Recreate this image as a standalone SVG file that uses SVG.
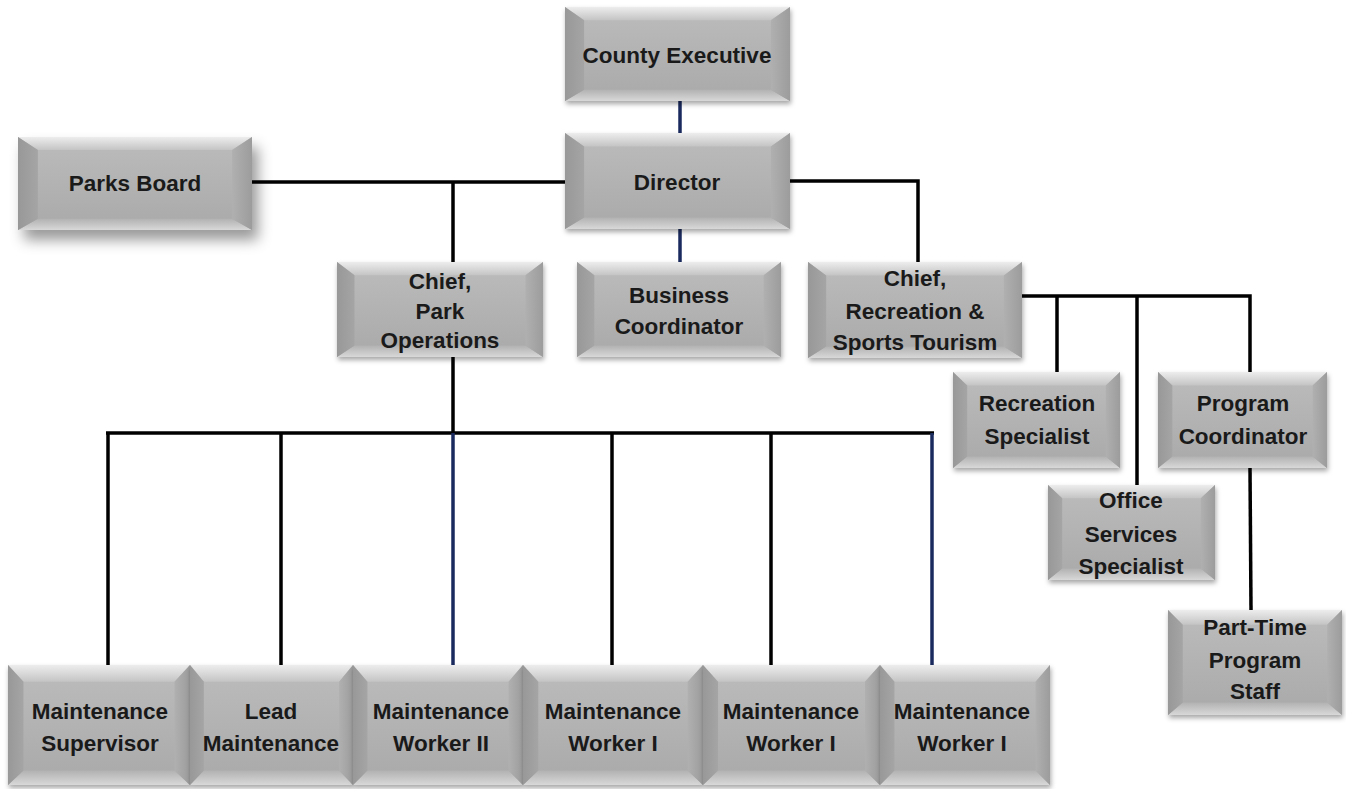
<svg xmlns="http://www.w3.org/2000/svg" xmlns:xlink="http://www.w3.org/1999/xlink" width="1346" height="789" viewBox="0 0 1346 789">
<defs>
<linearGradient id="face" x1="0" y1="0" x2="0" y2="1">
<stop offset="0" stop-color="#bcbcbc"/><stop offset="1" stop-color="#a9a9a9"/>
</linearGradient>
<linearGradient id="topg" x1="0" y1="0" x2="0" y2="1">
<stop offset="0" stop-color="#ededed"/><stop offset="1" stop-color="#c4c4c4"/>
</linearGradient>
<linearGradient id="botg" x1="0" y1="0" x2="0" y2="1">
<stop offset="0" stop-color="#b2b2b2"/><stop offset="1" stop-color="#d8d8d8"/>
</linearGradient>
<linearGradient id="leftg" x1="0" y1="0" x2="1" y2="0">
<stop offset="0" stop-color="#989898"/><stop offset="1" stop-color="#a5a5a5"/>
</linearGradient>
<linearGradient id="rightg" x1="0" y1="0" x2="1" y2="0">
<stop offset="0" stop-color="#b0b0b0"/><stop offset="1" stop-color="#9c9c9c"/>
</linearGradient>
<filter id="sh" x="-10%" y="-10%" width="130%" height="140%">
<feDropShadow dx="1" dy="3" stdDeviation="2.5" flood-color="#000" flood-opacity="0.35"/>
</filter>
<filter id="shbig" x="-20%" y="-20%" width="150%" height="170%">
<feDropShadow dx="6" dy="10" stdDeviation="7" flood-color="#000" flood-opacity="0.4"/>
</filter>
<symbol id="bev" viewBox="0 0 200 100" preserveAspectRatio="none">
<rect x="0" y="0" width="200" height="100" fill="url(#face)"/>
<polygon points="0,0 200,0 183,14 17,14" fill="url(#topg)"/>
<polygon points="0,100 200,100 183,88 17,88" fill="url(#botg)"/>
<polygon points="0,0 17,14 17,88 0,100" fill="url(#leftg)"/>
<polygon points="200,0 183,14 183,88 200,100" fill="url(#rightg)"/>
</symbol>
</defs>
<style>
text{font-family:"Liberation Sans",Arial,sans-serif;font-weight:bold;font-size:22.5px;fill:#1a1a1a;text-anchor:middle}
.c{stroke:#000;stroke-width:3.5;fill:none}
.n{stroke:#1a2a5e;stroke-width:3.5;fill:none}
</style>
<rect width="1346" height="789" fill="#fff"/>
<g id="connectors">
<line class="n" x1="680" y1="100" x2="680" y2="135"/>
<line class="n" x1="680" y1="228" x2="680" y2="264"/>
<polyline class="c" points="252,182 565,182"/>
<polyline class="c" points="453,182 453,262"/>
<polyline class="c" points="790,181 918,181 918,262"/>
<line class="c" x1="453" y1="357" x2="453" y2="433"/>
<line class="c" x1="106" y1="433" x2="934" y2="433"/>
<line class="c" x1="108" y1="433" x2="108" y2="665"/>
<line class="c" x1="281" y1="433" x2="281" y2="665"/>
<line class="n" x1="453" y1="433" x2="453" y2="665"/>
<line class="c" x1="612" y1="433" x2="612" y2="665"/>
<line class="c" x1="771" y1="433" x2="771" y2="665"/>
<line class="n" x1="932" y1="433" x2="932" y2="665"/>
<polyline class="c" points="1022,296 1250,296 1250,372"/>
<line class="c" x1="1057" y1="296" x2="1057" y2="372"/>
<line class="c" x1="1137" y1="296" x2="1137" y2="485"/>
<line class="c" x1="1250" y1="468" x2="1251" y2="610"/>
</g>
<g id="county-executive"><use xlink:href="#bev" href="#bev" x="565" y="7" width="225" height="94" filter="url(#sh)"/><text x="677" y="63">County Executive</text></g>
<g id="parks-board"><use xlink:href="#bev" href="#bev" x="18" y="137" width="234" height="93" filter="url(#shbig)"/><text x="135" y="191">Parks Board</text></g>
<g id="director"><use xlink:href="#bev" href="#bev" x="565" y="133" width="225" height="96" filter="url(#sh)"/><text x="677" y="190">Director</text></g>
<g id="chief-park-operations"><use xlink:href="#bev" href="#bev" x="337" y="262" width="206" height="95" filter="url(#sh)"/><text x="440" y="289">Chief,</text><text x="440" y="319">Park</text><text x="440" y="348">Operations</text></g>
<g id="business-coordinator"><use xlink:href="#bev" href="#bev" x="577" y="262" width="204" height="95" filter="url(#sh)"/><text x="679" y="303">Business</text><text x="679" y="334">Coordinator</text></g>
<g id="chief-recreation"><use xlink:href="#bev" href="#bev" x="808" y="262" width="214" height="96" filter="url(#sh)"/><text x="915" y="286">Chief,</text><text x="915" y="319">Recreation &amp;</text><text x="915" y="350">Sports Tourism</text></g>
<g id="recreation-specialist"><use xlink:href="#bev" href="#bev" x="953" y="372" width="167" height="96" filter="url(#sh)"/><text x="1037" y="411">Recreation</text><text x="1037" y="444">Specialist</text></g>
<g id="program-coordinator"><use xlink:href="#bev" href="#bev" x="1158" y="372" width="169" height="96" filter="url(#sh)"/><text x="1243" y="411">Program</text><text x="1243" y="444">Coordinator</text></g>
<g id="office-services-specialist"><use xlink:href="#bev" href="#bev" x="1048" y="485" width="167" height="95" filter="url(#sh)"/><text x="1131" y="508">Office</text><text x="1131" y="542">Services</text><text x="1131" y="574">Specialist</text></g>
<g id="part-time-program-staff"><use xlink:href="#bev" href="#bev" x="1168" y="610" width="174" height="105" filter="url(#sh)"/><text x="1255" y="635">Part-Time</text><text x="1255" y="668">Program</text><text x="1255" y="699">Staff</text></g>
<g id="maintenance-supervisor"><use xlink:href="#bev" href="#bev" x="8" y="665" width="182" height="120" filter="url(#sh)"/><text x="100" y="719">Maintenance</text><text x="100" y="751">Supervisor</text></g>
<g id="lead-maintenance"><use xlink:href="#bev" href="#bev" x="190" y="665" width="163" height="120" filter="url(#sh)"/><text x="271" y="719">Lead</text><text x="271" y="751">Maintenance</text></g>
<g id="maintenance-worker-ii"><use xlink:href="#bev" href="#bev" x="353" y="665" width="170" height="120" filter="url(#sh)"/><text x="441" y="719">Maintenance</text><text x="441" y="751">Worker II</text></g>
<g id="maintenance-worker-i-1"><use xlink:href="#bev" href="#bev" x="523" y="665" width="180" height="120" filter="url(#sh)"/><text x="613" y="719">Maintenance</text><text x="613" y="751">Worker I</text></g>
<g id="maintenance-worker-i-2"><use xlink:href="#bev" href="#bev" x="703" y="665" width="177" height="120" filter="url(#sh)"/><text x="791" y="719">Maintenance</text><text x="791" y="751">Worker I</text></g>
<g id="maintenance-worker-i-3"><use xlink:href="#bev" href="#bev" x="880" y="665" width="170" height="120" filter="url(#sh)"/><text x="962" y="719">Maintenance</text><text x="962" y="751">Worker I</text></g>
</svg>
